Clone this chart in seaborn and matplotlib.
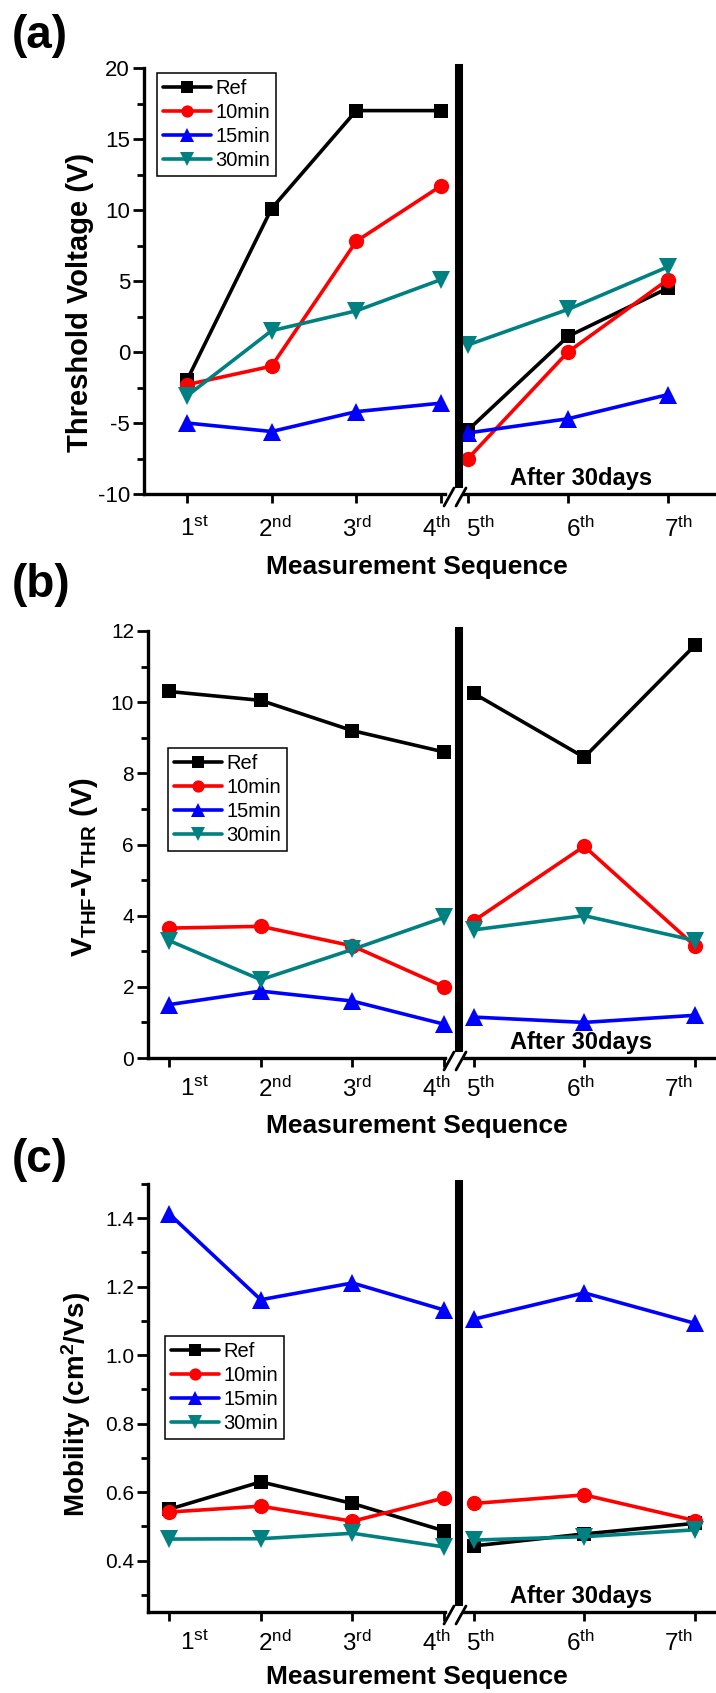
import numpy as np
import pandas as pd
import matplotlib
matplotlib.use('Agg')
import matplotlib.pyplot as plt
import seaborn as sns
from matplotlib.ticker import MultipleLocator
from matplotlib.transforms import ScaledTranslation
from matplotlib.lines import Line2D

# --- data ---
seq_pos = [1, 2, 3, 4, 5, 6, 7]
seq_num = ['1', '2', '3', '4', '5', '6', '7']
seq_sup = ['st', 'nd', 'rd', 'th', 'th', 'th', 'th']
series = ['Ref', '10min', '15min', '30min']

vth_ref = [-2.0, 10.1, 17.0, 17.0, -5.5, 1.1, 4.5]
vth_10 = [-2.3, -1.0, 7.8, 11.7, -7.5, 0.0, 5.1]
vth_15 = [-5.0, -5.6, -4.2, -3.6, -5.7, -4.7, -3.0]
vth_30 = [-3.1, 1.5, 2.9, 5.1, 0.5, 3.0, 6.0]

dv_ref = [10.3, 10.05, 9.2, 8.6, 10.25, 8.45, 11.6]
dv_10 = [3.65, 3.7, 3.15, 2.0, 3.85, 5.95, 3.15]
dv_15 = [1.5, 1.88, 1.6, 0.95, 1.15, 1.0, 1.2]
dv_30 = [3.3, 2.2, 3.05, 3.95, 3.6, 4.0, 3.3]

mob_ref = [0.55, 0.63, 0.567, 0.487, 0.443, 0.478, 0.509]
mob_10 = [0.542, 0.559, 0.515, 0.583, 0.567, 0.592, 0.517]
mob_15 = [1.413, 1.162, 1.211, 1.132, 1.105, 1.182, 1.093]
mob_30 = [0.463, 0.464, 0.48, 0.44, 0.46, 0.47, 0.49]

rows = []
for panel, vals in [('a', [vth_ref, vth_10, vth_15, vth_30]),
                    ('b', [dv_ref, dv_10, dv_15, dv_30]),
                    ('c', [mob_ref, mob_10, mob_15, mob_30])]:
    for name, v in zip(series, vals):
        for p, y in zip(seq_pos, v):
            rows.append({'panel': panel, 'series': name, 'seq': p, 'value': y})
df = pd.DataFrame(rows)

# --- style ---
sns.set_style('ticks')
plt.rcParams['font.family'] = ['Liberation Sans', 'DejaVu Sans']
plt.rcParams['mathtext.fontset'] = 'custom'
plt.rcParams['mathtext.rm'] = 'Liberation Sans'
plt.rcParams['mathtext.bf'] = 'Liberation Sans:bold'
plt.rcParams['mathtext.it'] = 'Liberation Sans:italic'
plt.rcParams['axes.unicode_minus'] = False
for k in ['axes.edgecolor', 'xtick.color', 'ytick.color', 'text.color', 'axes.labelcolor']:
    plt.rcParams[k] = 'black'

colors = {'Ref': 'black', '10min': '#ff0000', '15min': '#0000ff', '30min': '#008080'}
markers = {'Ref': 's', '10min': 'o', '15min': '^', '30min': 'v'}
msizes = {'Ref': 10.5, '10min': 11, '15min': 13, '30min': 13}

W, H = 716, 1693
fig = plt.figure(figsize=(W / 100, H / 100), dpi=100)


def rect(x0, y0, x1, y1):
    return [x0 / W, 1 - y1 / H, (x1 - x0) / W, (y1 - y0) / H]


label_px = [194, 275, 357, 436, 480, 580, 678]

panels = [
    dict(key='a', top=68, bottom=494, left=144, xl=(0.494, 4.047), xr=(4.91, 7.48),
         ylim=(-10, 20), major=5, minor=2.5, ytick=16, ylabel='Threshold Voltage (V)',
         ylab_xy=(80, 302), ylab_size=21, leg=(157, 73), xlab_y=567, tag_y=36, pad=10),
    dict(key='b', top=631, bottom=1058, left=148, xl=(0.770, 4.01), xr=(4.869, 7.19),
         ylim=(0, 12), major=2, minor=1, ytick=15,
         ylabel='V$_{\\mathbf{THF}}$-V$_{\\mathbf{THR}}$ (V)',
         ylab_xy=(84, 867), ylab_size=21, leg=(168, 748), xlab_y=1126, tag_y=585, pad=7),
    dict(key='c', top=1184, bottom=1612, left=148, xl=(0.770, 4.01), xr=(4.869, 7.19),
         ylim=(0.25, 1.5), major=0.2, minor=0.1, ytick=15,
         ylabel='Mobility (cm$^{\\mathbf{2}}$/Vs)',
         ylab_xy=(76, 1404), ylab_size=20, leg=(165, 1336), xlab_y=1677, tag_y=1160, pad=7),
]

for pn in panels:
    axl = fig.add_axes(rect(pn['left'], pn['top'], 445, pn['bottom']))
    axr = fig.add_axes(rect(459, pn['top'], W, pn['bottom']))
    sub = df[df['panel'] == pn['key']]
    for ax, side in [(axl, sub['seq'] <= 4), (axr, sub['seq'] >= 5)]:
        part = sub[side]
        for name in series:
            s = part[part['series'] == name]
            sns.lineplot(data=s, x='seq', y='value', ax=ax, color=colors[name],
                         marker=markers[name], markersize=msizes[name],
                         markeredgewidth=0, linewidth=2.6, estimator=None,
                         sort=False, clip_on=False, label=name if ax is axl else None,
                         legend=False)
        ax.set_ylim(*pn['ylim'])
        ax.set_xlabel('')
        ax.set_ylabel('')
        for sp in ['top', 'right']:
            ax.spines[sp].set_visible(False)
        ax.spines['bottom'].set_linewidth(2.4)
        ax.tick_params(axis='x', direction='out', length=6.5, width=2,
                       labelsize=17.5, pad=pn['pad'])

    axl.set_xlim(*pn['xl'])
    axr.set_xlim(*pn['xr'])
    axl.spines['left'].set_linewidth(2.4)
    axl.yaxis.set_major_locator(MultipleLocator(pn['major']))
    axl.yaxis.set_minor_locator(MultipleLocator(pn['minor']))
    axl.tick_params(axis='y', which='major', direction='out', length=8, width=2,
                    labelsize=pn['ytick'], pad=2)
    axl.tick_params(axis='y', which='minor', direction='out', length=5, width=2)
    axr.tick_params(axis='y', left=False, labelleft=False)

    # thick break line
    y0, y1 = pn['ylim']
    gap = 10 / (pn['bottom'] - pn['top']) * (y1 - y0)
    axr.spines['left'].set_linewidth(5.8)
    axr.spines['left'].set_bounds(y0 + gap, y1)
    x0, x1 = pn['xr']
    axr.spines['bottom'].set_bounds(x0 + 5 / (W - 459) * (x1 - x0), x1)

    # tick labels
    for ax, idx in [(axl, [0, 1, 2, 3]), (axr, [4, 5, 6])]:
        pos = [seq_pos[i] for i in idx]
        ax.set_xticks(pos)
        ax.set_xticklabels([seq_num[i] + '$^{\\mathrm{' + seq_sup[i] + '}}$' for i in idx])
        for lab, p, i in zip(ax.get_xticklabels(), pos, idx):
            dx = label_px[i] - ax.transData.transform((p, 0))[0]
            lab.set_transform(lab.get_transform() +
                              ScaledTranslation(dx / fig.dpi, 0, fig.dpi_scale_trans))

    # break marks //
    yb = pn['bottom'] + 3
    for cx in [449, 461]:
        fig.add_artist(Line2D([(cx - 5) / W, (cx + 5) / W],
                              [1 - (yb + 9) / H, 1 - (yb - 9) / H],
                              color='black', lw=2, transform=fig.transFigure))

    leg = axl.legend(loc='upper left', bbox_to_anchor=(pn['leg'][0] / W, 1 - pn['leg'][1] / H),
                     bbox_transform=fig.transFigure, borderaxespad=0, fontsize=14.5,
                     handlelength=2.4, handletextpad=0.2, labelspacing=0.25,
                     borderpad=0.3, fancybox=False, framealpha=1, markerscale=0.8)
    leg.get_frame().set_edgecolor('black')
    leg.get_frame().set_linewidth(1.1)

    fig.text(581 / W, 1 - (pn['bottom'] - 16) / H, 'After 30days', fontsize=17,
             fontweight='bold', ha='center', va='center')
    fig.text(417 / W, 1 - pn['xlab_y'] / H, 'Measurement Sequence', fontsize=19,
             fontweight='bold', ha='center', va='center')
    fig.text(pn['ylab_xy'][0] / W, 1 - pn['ylab_xy'][1] / H, pn['ylabel'],
             fontsize=pn['ylab_size'], fontweight='bold', rotation=90,
             ha='center', va='center')
    fig.text(12 / W, 1 - pn['tag_y'] / H, '(' + pn['key'] + ')', fontsize=33,
             fontweight='bold', ha='left', va='center')

fig.savefig('out.png', dpi=100)
